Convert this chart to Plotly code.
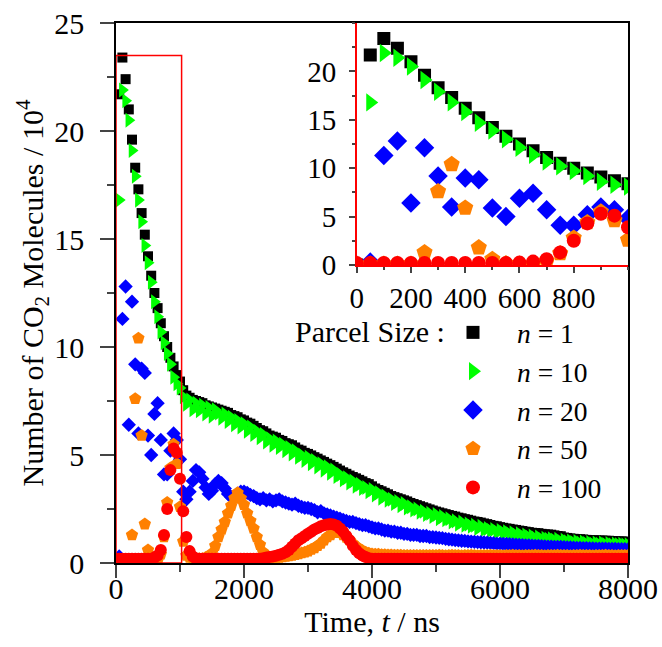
import plotly.graph_objects as go

# time grid (ns), sampled every 50 ns
time_ns = list(range(0, 8001, 50))

n1 = [
    0, 21.7, 23.4, 22.4, 21.0, 19.6, 18.3, 17.3, 16.2, 15.2, 14.2, 13.3, 12.5, 11.8, 11.1, 10.5, 10.0, 9.5, 9.1, 8.7,
    8.4, 8.0, 7.75, 7.65, 7.55, 7.5, 7.45, 7.4, 7.3, 7.25, 7.2, 7.15, 7.1, 7.05, 7.0, 6.95, 6.85, 6.8, 6.75, 6.65,
    6.6, 6.5, 6.45, 6.35, 6.25, 6.15, 6.1, 6.0, 5.9, 5.85, 5.8, 5.7, 5.65, 5.55, 5.5, 5.45, 5.35, 5.25, 5.2, 5.1,
    5.05, 4.98, 4.9, 4.83, 4.75, 4.68, 4.6, 4.53, 4.45, 4.37, 4.28, 4.2, 4.13, 4.05, 3.98, 3.92, 3.85, 3.78, 3.7, 3.65,
    3.55, 3.45, 3.38, 3.32, 3.25, 3.18, 3.1, 3.05, 3.0, 2.95, 2.9, 2.85, 2.78, 2.73, 2.68, 2.63, 2.58, 2.53, 2.48, 2.43,
    2.38, 2.34, 2.3, 2.26, 2.22, 2.18, 2.15, 2.1, 2.07, 2.03, 2.0, 1.96, 1.92, 1.9, 1.87, 1.83, 1.8, 1.76, 1.72, 1.7,
    1.66, 1.63, 1.6, 1.58, 1.55, 1.53, 1.5, 1.48, 1.45, 1.43, 1.4, 1.39, 1.38, 1.35, 1.33, 1.32, 1.31, 1.28, 1.25, 1.24,
    1.18, 1.16, 1.14, 1.12, 1.11, 1.1, 1.09, 1.07, 1.06, 1.05, 1.05, 1.04, 1.04, 1.03, 1.03, 1.02, 1.01, 1.0, 1.0, 0.99,
    0.98,
]

n10 = [
    0, 16.8, 21.9, 21.4, 20.5, 19.1, 17.9, 16.8, 15.8, 14.7, 13.9, 13.0, 12.1, 11.4, 10.7, 10.2, 9.7, 9.2, 8.6, 8.3,
    8.1, 7.7, 7.35, 7.55, 7.1, 7.4, 7.05, 7.3, 6.9, 7.2, 6.8, 7.1, 6.95, 6.7, 6.9, 6.55, 6.75, 6.4, 6.6, 6.3,
    6.45, 6.1, 6.3, 5.95, 6.1, 5.8, 5.95, 5.6, 5.75, 5.45, 5.65, 5.35, 5.5, 5.2, 5.35, 5.05, 5.2, 4.9, 5.0, 4.75,
    4.9, 4.6, 4.75, 4.45, 4.6, 4.3, 4.45, 4.15, 4.3, 4.0, 4.1, 3.85, 3.95, 3.7, 3.8, 3.55, 3.65, 3.45, 3.5, 3.3,
    3.4, 3.15, 3.25, 3.0, 3.1, 2.9, 2.95, 2.75, 2.85, 2.65, 2.75, 2.55, 2.6, 2.45, 2.5, 2.35, 2.4, 2.25, 2.3, 2.15,
    2.25, 2.05, 2.15, 2.0, 2.05, 1.9, 1.95, 1.8, 1.9, 1.75, 1.8, 1.7, 1.75, 1.6, 1.7, 1.55, 1.6, 1.5, 1.55, 1.45,
    1.5, 1.4, 1.45, 1.35, 1.4, 1.3, 1.35, 1.25, 1.3, 1.2, 1.25, 1.15, 1.2, 1.1, 1.15, 1.1, 1.12, 1.05, 1.1, 1.0,
    1.05, 0.98, 1.02, 0.95, 1.0, 0.92, 0.97, 0.9, 0.95, 0.88, 0.93, 0.87, 0.92, 0.86, 0.9, 0.85, 0.88, 0.84, 0.87, 0.83,
    0.85,
]

n20 = [
    0, 0.3, 11.3, 12.8, 6.4, 12.1, 9.2, 6.0, 9.0, 8.8, 5.9, 5.0, 6.9, 7.4, 5.7, 4.1, 4.1, 5.2, 6.0, 5.7,
    4.8, 3.3, 2.95, 3.3, 3.8, 4.3, 4.2, 3.9, 3.5, 3.2, 3.35, 3.65, 3.8, 3.7, 3.45, 3.2, 3.05, 3.1, 3.2, 3.3,
    3.3, 3.25, 3.15, 3.1, 3.0, 2.95, 3.0, 2.9, 2.95, 2.85, 2.9, 2.95, 2.85, 2.8, 2.75, 2.7, 2.75, 2.65, 2.6, 2.55,
    2.55, 2.5, 2.45, 2.35, 2.4, 2.3, 2.25, 2.2, 2.15, 2.1, 2.05, 2.0, 1.95, 1.9, 1.9, 1.85, 1.8, 1.75, 1.75, 1.7,
    1.65, 1.6, 1.6, 1.55, 1.5, 1.5, 1.45, 1.45, 1.4, 1.4, 1.35, 1.35, 1.3, 1.3, 1.3, 1.25, 1.25, 1.25, 1.2, 1.2,
    1.18, 1.16, 1.15, 1.12, 1.1, 1.08, 1.06, 1.05, 1.03, 1.02, 1.0, 0.99, 0.98, 0.97, 0.96, 0.95, 0.94, 0.93, 0.92, 0.9,
    0.9, 0.89, 0.88, 0.87, 0.86, 0.85, 0.84, 0.83, 0.82, 0.81, 0.8, 0.79, 0.79, 0.78, 0.77, 0.76, 0.76, 0.75, 0.74, 0.74,
    0.73, 0.72, 0.72, 0.71, 0.7, 0.7, 0.69, 0.69, 0.68, 0.68, 0.67, 0.67, 0.66, 0.66, 0.65, 0.65, 0.65, 0.64, 0.64, 0.64,
    0.63,
]

n50 = [
    0.1, 0.1, 0.1, 0.1, 0.1, 1.3, 7.6, 10.4, 5.9, 1.8, 0.6, 0.15, 0.1, 0.1, 0.4, 1.2, 2.8, 4.4, 5.5, 4.6,
    2.6, 1.0, 0.35, 0.25, 0.2, 0.2, 0.2, 0.2, 0.25, 0.3, 0.45, 0.8, 1.2, 1.55, 1.9, 2.3, 2.65, 3.0, 3.25, 3.0,
    2.7, 2.3, 1.95, 1.6, 1.2, 0.85, 0.5, 0.3, 0.25, 0.25, 0.25, 0.25, 0.28, 0.3, 0.32, 0.35, 0.38, 0.42, 0.46, 0.5,
    0.55, 0.62, 0.7, 0.8, 0.9, 1.05, 1.2, 1.3, 1.4, 1.42, 1.4, 1.3, 1.18, 1.05, 0.9, 0.78, 0.66, 0.58, 0.5, 0.45,
    0.42, 0.4, 0.4, 0.38, 0.38, 0.37, 0.37, 0.36, 0.36, 0.36, 0.35, 0.35, 0.35, 0.35, 0.35, 0.35, 0.35, 0.35, 0.35, 0.35,
    0.35, 0.36, 0.35, 0.34, 0.35, 0.36, 0.35, 0.35, 0.34, 0.35, 0.35, 0.36, 0.35, 0.34, 0.35, 0.35, 0.35, 0.36, 0.35, 0.35,
    0.35, 0.34, 0.35, 0.35, 0.36, 0.35, 0.35, 0.34, 0.35, 0.35, 0.35, 0.36, 0.35, 0.35, 0.34, 0.35, 0.35, 0.35, 0.36, 0.35,
    0.35, 0.35, 0.34, 0.35, 0.35, 0.36, 0.35, 0.35, 0.35, 0.34, 0.35, 0.35, 0.35, 0.36, 0.35, 0.35, 0.34, 0.35, 0.35, 0.35,
    0.35,
]

n100 = [
    0.2, 0.2, 0.2, 0.2, 0.2, 0.2, 0.2, 0.2, 0.2, 0.2, 0.2, 0.2, 0.25, 0.35, 0.6, 1.3, 2.5, 4.3, 5.3, 5.1,
    3.9, 2.4, 1.2, 0.55, 0.3, 0.2, 0.2, 0.2, 0.2, 0.2, 0.2, 0.2, 0.2, 0.2, 0.2, 0.2, 0.2, 0.2, 0.2, 0.2,
    0.2, 0.2, 0.2, 0.2, 0.2, 0.2, 0.22, 0.25, 0.28, 0.3, 0.33, 0.38, 0.43, 0.5, 0.6, 0.75, 0.9, 1.05, 1.15, 1.25,
    1.35, 1.45, 1.55, 1.62, 1.7, 1.75, 1.78, 1.8, 1.78, 1.72, 1.6, 1.45, 1.25, 1.05, 0.8, 0.6, 0.45, 0.35, 0.28, 0.22,
    0.2, 0.2, 0.2, 0.2, 0.2, 0.2, 0.2, 0.2, 0.2, 0.2, 0.2, 0.2, 0.2, 0.2, 0.2, 0.2, 0.2, 0.2, 0.2, 0.2,
    0.2, 0.2, 0.2, 0.2, 0.2, 0.2, 0.2, 0.2, 0.2, 0.2, 0.2, 0.2, 0.2, 0.2, 0.2, 0.2, 0.2, 0.2, 0.2, 0.2,
    0.2, 0.2, 0.2, 0.2, 0.2, 0.2, 0.2, 0.2, 0.2, 0.2, 0.2, 0.2, 0.2, 0.2, 0.2, 0.2, 0.2, 0.2, 0.2, 0.2,
    0.2, 0.2, 0.2, 0.2, 0.2, 0.2, 0.2, 0.2, 0.2, 0.2, 0.2, 0.2, 0.2, 0.2, 0.2, 0.2, 0.2, 0.2, 0.2, 0.2,
    0.2,
]

series_names = ["<i>n</i> = 1", "<i>n</i> = 10", "<i>n</i> = 20", "<i>n</i> = 50", "<i>n</i> = 100"]
series_values = [n1, n10, n20, n50, n100]
colors = ["#000000", "#00ff00", "#0000ff", "#ff8000", "#ff0000"]
symbols = ["square", "triangle-right", "diamond", "pentagon", "circle"]
main_sizes = [10, 13, 11, 13, 12]
inset_sizes = [13, 16, 15, 17, 14]

inset_max_t = 1000
inset_count = sum(1 for t in time_ns if t <= inset_max_t)

FONT = "Liberation Serif"

fig = go.Figure()
for name, vals, col, sym, s in zip(series_names, series_values, colors, symbols, main_sizes):
    fig.add_trace(go.Scatter(
        x=time_ns, y=vals, mode="markers", name=name, showlegend=False,
        marker=dict(symbol=sym, size=s, color=col, line=dict(width=0)),
        xaxis="x", yaxis="y",
    ))
for name, vals, col, sym, s in zip(series_names, series_values, colors, symbols, inset_sizes):
    fig.add_trace(go.Scatter(
        x=time_ns[:inset_count], y=vals[:inset_count], mode="markers", name=name,
        showlegend=True,
        marker=dict(symbol=sym, size=s, color=col, line=dict(width=0)),
        xaxis="x2", yaxis="y2",
    ))

fig.add_shape(type="rect", xref="x", yref="y", x0=0, x1=1025, y0=0, y1=23.5,
              line=dict(color="#ff0000", width=1.5), layer="above")

W, H = 662, 647
L, R, T, B = 116, 34, 23, 84
pw, ph = W - L - R, H - T - B

def px_x(p):
    return (p - L) / pw

def px_y(p):
    return (H - B - p) / ph

axis_common = dict(showgrid=False, zeroline=False, ticks="outside", showline=True,
                   automargin=False)

fig.update_layout(
    width=W, height=H,
    margin=dict(l=L, r=R, t=T, b=B, autoexpand=False),
    paper_bgcolor="white", plot_bgcolor="white",
    font=dict(family=FONT, size=30, color="black"),
    xaxis=dict(range=[0, 8000], dtick=2000, tick0=0, ticklen=13, tickwidth=1.5,
               linecolor="black", linewidth=1.5, mirror=True,
               ticklabelposition="outside", ticklabelstandoff=-15,
               tickfont=dict(family=FONT, size=30, color="black"),
               minor=dict(dtick=1000, ticklen=7, tickwidth=1.5, ticks="outside"),
               title=dict(text="Time, <i>t</i> / ns", font=dict(family=FONT, size=30), standoff=0),
               **axis_common),
    yaxis=dict(range=[0, 25], dtick=5, tick0=0, ticklen=14, tickwidth=1.5,
               linecolor="black", linewidth=1.5, mirror=True,
               ticklabelposition="outside", ticklabelstandoff=10,
               tickfont=dict(family=FONT, size=30, color="black"),
               minor=dict(dtick=2.5, ticklen=7, tickwidth=1.5, ticks="outside"),
               title=dict(text="Number of CO<sub>2</sub> Molecules / 10<sup>4</sup>",
                          font=dict(family=FONT, size=30), standoff=0),
               **axis_common),
    xaxis2=dict(domain=[px_x(356.7), 1.0], anchor="y2", range=[0, 1000],
                tickvals=[0, 200, 400, 600, 800], ticklen=6, tickwidth=1.5,
                linecolor="#ff0000", linewidth=1.5,
                tickfont=dict(family=FONT, size=29, color="black"),
                minor=dict(dtick=100, tick0=0, ticklen=3, tickwidth=1.5, ticks="outside"),
                **axis_common),
    yaxis2=dict(domain=[px_y(265), 1.0], anchor="x2", range=[0, 25],
                tickvals=[0, 5, 10, 15, 20], ticklen=6, tickwidth=1.5,
                linecolor="#ff0000", linewidth=1.5,
                ticklabelposition="outside", ticklabelstandoff=7,
                tickfont=dict(family=FONT, size=29, color="black"),
                minor=dict(dtick=2.5, tick0=0, ticklen=3, tickwidth=1.5, ticks="outside"),
                **axis_common),
    legend=dict(x=px_x(429), y=px_y(308), xanchor="left", yanchor="top",
                bgcolor="rgba(0,0,0,0)", borderwidth=0, itemwidth=78,
                font=dict(family=FONT, size=27.5, color="black"),
                tracegroupgap=0),
    annotations=[dict(text="Parcel Size :", xref="paper", yref="paper",
                      x=px_x(447), y=px_y(331), xanchor="right", yanchor="middle",
                      showarrow=False, font=dict(family=FONT, size=30, color="black"))],
)

fig.write_html("out.html")
